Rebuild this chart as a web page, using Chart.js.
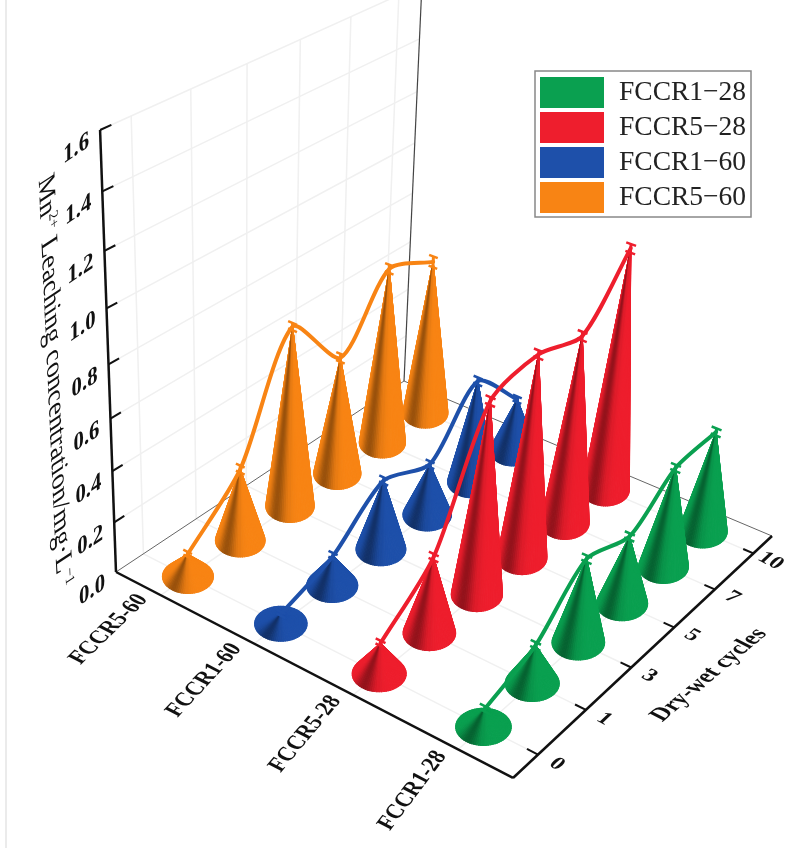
<!DOCTYPE html>
<html>
<head>
<meta charset="utf-8">
<title>Mn2+ leaching concentration</title>
<script src="https://cdn.jsdelivr.net/npm/chart.js@4"></script>
<style>
	html, body { margin: 0; padding: 0; background: #fff; }
	canvas { display: block; }
</style>
</head>
<body>
<canvas id="leaching" width="803" height="848"></canvas>
<script>
(function () {
	'use strict';

	// ── Data ─────────────────────────────────────────────────────────────────

	var cycles     = ['0', '1', '3', '5', '7', '10'];
	var rowLabels  = ['FCCR5-60', 'FCCR1-60', 'FCCR5-28', 'FCCR1-28'];
	var valueTicks = [0, 0.2, 0.4, 0.6, 0.8, 1.0, 1.2, 1.4, 1.6];

	var fccr128 = [0.07, 0.15, 0.33, 0.27, 0.40, 0.41];
	var fccr528 = [0.12, 0.30, 0.75, 0.80, 0.75, 0.97];
	var fccr160 = [0.04, 0.12, 0.28, 0.21, 0.42, 0.22];
	var fccr560 = [0.09, 0.29, 0.72, 0.48, 0.72, 0.64];

	var err128 = [0.01, 0.012, 0.012, 0.012, 0.012, 0.014];
	var err528 = [0.01, 0.012, 0.014, 0.014, 0.016, 0.016];
	var err160 = [0.008, 0.012, 0.012, 0.012, 0.014, 0.012];
	var err560 = [0.01, 0.014, 0.014, 0.016, 0.016, 0.022];

	// Later rows sit further back, so Chart.js paints them first.
	var seriesNames  = ['FCCR1\u221228', 'FCCR5\u221228', 'FCCR1\u221260', 'FCCR5\u221260'];
	var seriesValues = [fccr128, fccr528, fccr160, fccr560];
	var seriesErrors = [err128, err528, err160, err560];
	var seriesRows   = [3, 2, 1, 0];
	var COLORS = [[10, 160, 80], [238, 30, 45], [30, 80, 170], [248, 132, 20]];

	// ── Projection ───────────────────────────────────────────────────────────

	// Floor homography (s = across rows, c = along cycles) plus the vertical vanishing point.
	var H = { a: 340.3, b: 351.3, c: 116, d: 120, e: -131.3, f: 572, g: -0.1105, h: 0.1566 };
	var VP = { x: 240, y: 4013, k: -0.07114 };

	function project(s, c, z) {
		var k = VP.k * z;
		var w = H.g * s + H.h * c + 1 + k;
		return {
			x: (H.a * s + H.b * c + H.c + k * VP.x) / w,
			y: (H.d * s + H.e * c + H.f + k * VP.y) / w
		};
	}

	function rowPos(i)   { return (i + 0.5) / rowLabels.length; }
	function cyclePos(j) { return (j + 0.5) / cycles.length; }

	function rgb(col, f) {
		return 'rgb(' + col.map(function (v) { return Math.round(v * f); }).join(',') + ')';
	}

	// ── Drawing helpers ──────────────────────────────────────────────────────

	var SERIF = '"Liberation Serif", "Times New Roman", serif';

	function segment(ctx, chart, a, b, color, width) {
		var sx = chart.scales.x, sy = chart.scales.y;
		ctx.strokeStyle = color;
		ctx.lineWidth = width;
		ctx.beginPath();
		ctx.moveTo(sx.getPixelForValue(a.x), sy.getPixelForValue(a.y));
		ctx.lineTo(sx.getPixelForValue(b.x), sy.getPixelForValue(b.y));
		ctx.stroke();
	}

	// Text set in a sheared plane: xDir runs along the baseline, yDir points down the glyphs.
	function planeText(ctx, str, x, y, xDir, yDir, font, align) {
		ctx.save();
		ctx.transform(xDir[0], xDir[1], yDir[0], yDir[1], x, y);
		ctx.font = font;
		ctx.textAlign = align;
		ctx.textBaseline = 'middle';
		ctx.fillStyle = '#111';
		ctx.fillText(str, 0, 0);
		ctx.restore();
	}

	function cone(ctx, base, apex, rx, ry, col) {
		var steps = 72, faces = [], i;
		for (i = 0; i < steps; i++) {
			faces.push({ t0: i / steps * 2 * Math.PI, t1: (i + 1) / steps * 2 * Math.PI });
		}
		// Back of the cone first, the face towards the viewer last.
		faces.sort(function (p, q) { return Math.sin(p.t0 + Math.PI / steps) - Math.sin(q.t0 + Math.PI / steps); });
		ctx.lineWidth = 1.1;
		ctx.lineJoin = 'round';
		faces.forEach(function (f) {
			var deg = (f.t0 + f.t1) / 2 * 180 / Math.PI;
			var shade = 1 - 0.38 * Math.exp(-Math.pow((deg - 125) / 24, 2));
			var c = rgb(col, shade);
			ctx.fillStyle = c;
			ctx.strokeStyle = c;
			ctx.beginPath();
			ctx.moveTo(apex.x, apex.y);
			ctx.lineTo(base.x + rx * Math.cos(f.t0), base.y + ry * Math.sin(f.t0));
			ctx.lineTo(base.x + rx * Math.cos(f.t1), base.y + ry * Math.sin(f.t1));
			ctx.closePath();
			ctx.fill();
			ctx.stroke();
		});
	}

	// ── Plugins ──────────────────────────────────────────────────────────────

	var framePlugin = {
		id: 'frame',
		beforeDatasetsDraw: function (chart) {
			var ctx = chart.ctx;
			ctx.save();
			ctx.lineCap = 'butt';

			segment(ctx, chart, { x: 6, y: 0 }, { x: 6, y: 848 }, '#e4e4e4', 1.5);

			// Wall and floor grid
			valueTicks.slice(1).forEach(function (v) {
				segment(ctx, chart, project(0, 0, v), project(0, 1, v), '#f0f0f0', 1.5);
			});
			cycles.forEach(function (t, j) {
				var c = cyclePos(j);
				segment(ctx, chart, project(0, c, 0), project(0, c, 1.6), '#f0f0f0', 1.5);
				segment(ctx, chart, project(0, c, 0), project(1, c, 0), '#f0f0f0', 1.5);
			});
			rowLabels.forEach(function (t, i) {
				segment(ctx, chart, project(rowPos(i), 0, 0), project(rowPos(i), 1, 0), '#f0f0f0', 1.5);
			});

			// Back edges
			segment(ctx, chart, project(0, 0, 0), project(0, 1, 0), '#666', 1);
			segment(ctx, chart, project(0, 1, 0), project(1, 1, 0), '#666', 1);
			segment(ctx, chart, project(0, 1, 0), project(0, 1, 1.7), '#444', 1.2);

			// Front axes
			segment(ctx, chart, project(0, 0, 0), project(1, 0, 0), '#111', 2.5);
			segment(ctx, chart, project(1, 0, 0), project(1, 1, 0), '#111', 2.5);
			segment(ctx, chart, project(0, 0, 0), project(0, 0, 1.6), '#111', 2.5);

			valueTicks.slice(1).forEach(function (v) {
				segment(ctx, chart, project(0, 0, v), project(0, 0.03, v), '#111', 2);
			});
			cycles.forEach(function (t, j) {
				segment(ctx, chart, project(1, cyclePos(j), 0), project(0.975, cyclePos(j), 0), '#111', 2);
			});

			// Value tick labels
			var wall = [0.83, -0.55];
			valueTicks.forEach(function (v) {
				var p = project(0, 0, v);
				planeText(ctx, v.toFixed(1), p.x - 11, p.y + 10, wall, [0, 1], 'bold 25px ' + SERIF, 'right');
			});

			// Row labels along the front edge
			rowLabels.forEach(function (label, i) {
				var s = rowPos(i);
				var p = project(s, -0.045, 0);
				var ang = (-44 - (s - 0.125) * 12) * Math.PI / 180;
				planeText(ctx, label, p.x - 3, p.y - 9, [Math.cos(ang), Math.sin(ang)], [1.06, 0.55], 'bold 20.5px ' + SERIF, 'right');
			});

			// Cycle tick labels lie flat on the floor
			cycles.forEach(function (label, j) {
				var p = project(1.042, cyclePos(j), 0);
				planeText(ctx, label, p.x, p.y, [0.887, 0.46], [-0.66, 0.62], 'bold 23px ' + SERIF, 'center');
			});
			var ang = -40 * Math.PI / 180;
			planeText(ctx, 'Dry-wet cycles', 709, 675, [Math.cos(ang), Math.sin(ang)], [1.03, 0.53], 'bold 22px ' + SERIF, 'center');

			// Value axis title, written piece by piece for the superscripts
			var dir = [0.045, 0.999], down = [-0.85, 0.56];
			var parts = [
				{ t: 'Mn', sup: false }, { t: '2+', sup: true },
				{ t: ' Leaching concentration/mg\u00b7L', sup: false }, { t: '\u22121', sup: true }
			];
			var cx = 45, cy = 177;
			parts.forEach(function (part) {
				var font = (part.sup ? 15 : 28) + 'px ' + SERIF;
				var lift = part.sup ? 7 : 0;
				ctx.font = font;
				var w = ctx.measureText(part.t).width;
				planeText(ctx, part.t, cx - down[0] * lift, cy - down[1] * lift, dir, down, font, 'left');
				cx += dir[0] * w;
				cy += dir[1] * w;
			});

			ctx.restore();
		},

		beforeDatasetDraw: function (chart, args) {
			var ctx = chart.ctx, i = args.index;
			var s = rowPos(seriesRows[i]);
			ctx.save();
			for (var j = cycles.length - 1; j >= 0; j--) {
				var c = cyclePos(j);
				var w = H.g * s + H.h * c + 1;
				cone(ctx, project(s, c, 0), project(s, c, seriesValues[i][j]), 25.5 / w, 17 / w, COLORS[i]);
			}
			ctx.restore();
		},

		afterDatasetDraw: function (chart, args) {
			var ctx = chart.ctx, i = args.index;
			var s = rowPos(seriesRows[i]);
			ctx.save();
			seriesValues[i].forEach(function (v, j) {
				var c = cyclePos(j), e = seriesErrors[i][j];
				var col = rgb(COLORS[i], 1);
				segment(ctx, chart, project(s, c, v - e), project(s, c, v + e), col, 3);
				[v - e, v + e].forEach(function (z) {
					segment(ctx, chart, project(s - 0.012, c, z), project(s + 0.012, c, z), col, 2.5);
				});
			});
			ctx.restore();
		},

		afterDatasetsDraw: function (chart) {
			var ctx = chart.ctx;
			ctx.save();
			ctx.fillStyle = '#fff';
			ctx.fillRect(535, 71, 216, 146);
			ctx.strokeStyle = '#888';
			ctx.lineWidth = 1.5;
			ctx.strokeRect(535, 71, 216, 146);
			ctx.font = '27.5px ' + SERIF;
			ctx.textAlign = 'left';
			ctx.textBaseline = 'middle';
			seriesNames.forEach(function (name, i) {
				var top = 77 + i * 35;
				ctx.fillStyle = rgb(COLORS[i], 1);
				ctx.fillRect(540, top, 64, 31);
				ctx.fillStyle = '#222';
				ctx.fillText(name, 619, top + 16);
			});
			ctx.restore();
		}
	};

	// ── Chart ────────────────────────────────────────────────────────────────

	new Chart(document.getElementById('leaching'), {
		type: 'scatter',
		data: {
			datasets: seriesNames.map(function (name, i) {
				var s = rowPos(seriesRows[i]);
				return {
					label: name,
					data: seriesValues[i].map(function (v, j) { return project(s, cyclePos(j), v); }),
					showLine: true,
					borderColor: rgb(COLORS[i], 1),
					borderWidth: 4,
					borderCapStyle: 'round',
					tension: 0.26,
					pointRadius: 0,
					fill: false,
					clip: false
				};
			})
		},
		options: {
			responsive: false,
			animation: false,
			devicePixelRatio: 1,
			layout: { padding: 0 },
			plugins: { legend: { display: false }, tooltip: { enabled: false } },
			scales: {
				x: { type: 'linear', min: 0, max: 803, display: false },
				y: { type: 'linear', min: 0, max: 848, reverse: true, display: false }
			}
		},
		plugins: [framePlugin]
	});
}());
</script>
</body>
</html>
